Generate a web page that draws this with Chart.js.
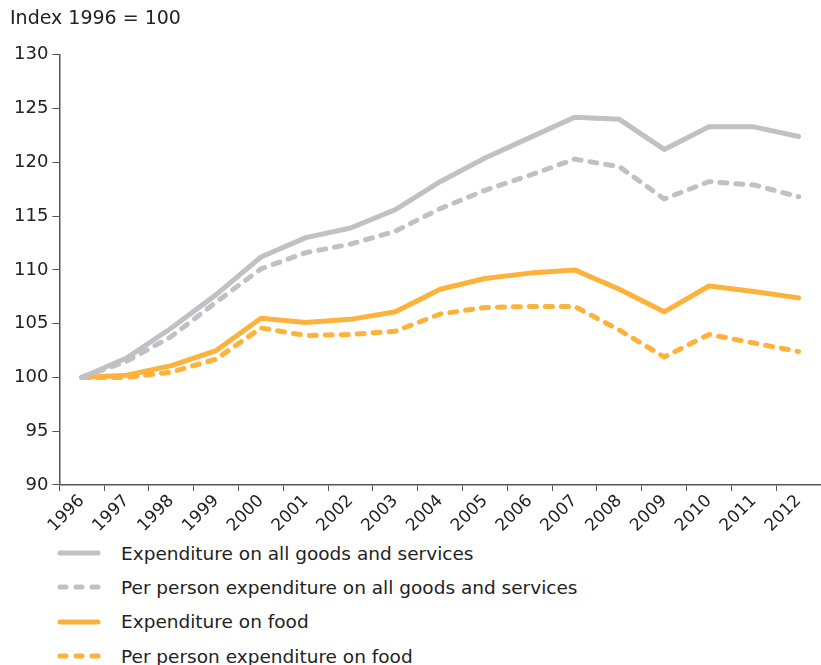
<!DOCTYPE html>
<html>
<head>
<meta charset="utf-8">
<script src="https://cdn.jsdelivr.net/npm/chart.js@4/dist/chart.umd.min.js"></script>
<style>
    body { margin: 0; background: #fff; font-family: "DejaVu Sans", Verdana, sans-serif; color: #222; }
    #wrap { width: 821px; height: 536px; position: relative; }
    #legend { margin: 0; padding: 0; list-style: none; }
    #legend li { height: 34.3px; display: flex; align-items: center; font-size: 18.5px; }
    #legend svg { margin-left: 57px; margin-right: 20px; }
</style>
</head>
<body>
<div id="wrap"><canvas id="chart"></canvas></div>
<ul id="legend"></ul>
<script>
const years = ['1996', '1997', '1998', '1999', '2000', '2001', '2002', '2003', '2004',
    '2005', '2006', '2007', '2008', '2009', '2010', '2011', '2012']

const allGoods = [100, 101.8, 104.6, 107.7, 111.2, 113.0, 113.9, 115.6, 118.2,
    120.4, 122.3, 124.2, 124.0, 121.2, 123.3, 123.3, 122.4]
const allGoodsPerPerson = [100, 101.5, 103.8, 107.0, 110.1, 111.6, 112.4, 113.6, 115.7,
    117.4, 118.8, 120.3, 119.6, 116.6, 118.2, 117.9, 116.8]
const food = [100, 100.2, 101.1, 102.5, 105.5, 105.1, 105.4, 106.1, 108.2,
    109.2, 109.7, 110.0, 108.2, 106.1, 108.5, 108.0, 107.4]
const foodPerPerson = [100, 100.0, 100.5, 101.7, 104.6, 103.9, 104.0, 104.3, 105.9,
    106.5, 106.6, 106.6, 104.4, 101.9, 104.0, 103.2, 102.4]

const grey = '#c1c1c5'
const orange = '#fdb33b'

const series = [
    { label: 'Expenditure on all goods and services', data: allGoods, color: grey, dash: [] },
    { label: 'Per person expenditure on all goods and services', data: allGoodsPerPerson, color: grey, dash: [7, 9] },
    { label: 'Expenditure on food', data: food, color: orange, dash: [] },
    { label: 'Per person expenditure on food', data: foodPerPerson, color: orange, dash: [7, 9] }
]

const family = '"DejaVu Sans", Verdana, sans-serif'

new Chart(document.getElementById('chart').getContext('2d'), {
    type: 'line',
    data: {
        labels: years,
        datasets: series.map(s => ({
            label: s.label,
            data: s.data,
            borderColor: s.color,
            borderWidth: 5,
            borderDash: s.dash,
            borderCapStyle: 'round',
            borderJoinStyle: 'round',
            pointRadius: 0,
            fill: false,
            tension: 0
        }))
    },
    options: {
        responsive: true,
        maintainAspectRatio: false,
        animation: false,
        layout: { padding: { left: 10, right: 0, top: 8 } },
        plugins: {
            legend: { display: false },
            tooltip: { enabled: false },
            title: {
                display: true,
                text: 'Index 1996 = 100',
                align: 'start',
                color: '#222',
                font: { family: family, size: 19, weight: 'normal' },
                padding: { top: 0, bottom: 24 }
            }
        },
        scales: {
            x: {
                offset: true,
                grid: { offset: true, drawOnChartArea: false, tickLength: 6, color: '#555' },
                border: { color: '#555', width: 1.5 },
                ticks: {
                    color: '#222',
                    font: { family: family, size: 17 },
                    maxRotation: 45,
                    minRotation: 45,
                    padding: 0,
                    autoSkip: false
                }
            },
            y: {
                min: 90,
                max: 130,
                grid: { drawOnChartArea: false, tickLength: 7, color: '#555' },
                border: { color: '#555', width: 1.5 },
                ticks: {
                    stepSize: 5,
                    color: '#222',
                    font: { family: family, size: 18 },
                    padding: 4
                }
            }
        }
    }
})

const legend = document.getElementById('legend')
for (const s of series) {
    const li = document.createElement('li')
    li.innerHTML = '<svg width="44" height="8"><line x1="3" y1="4" x2="41" y2="4" stroke="' + s.color +
        '" stroke-width="5" stroke-linecap="round"' + (s.dash.length ? ' stroke-dasharray="6 10"' : '') +
        '/></svg><span>' + s.label + '</span>'
    legend.appendChild(li)
}
</script>
</body>
</html>
